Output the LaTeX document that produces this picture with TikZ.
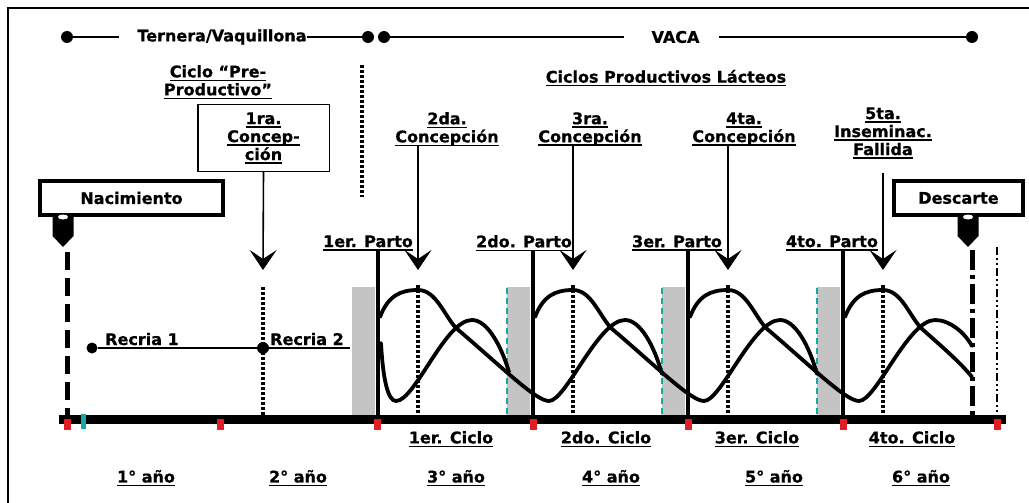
\documentclass[tikz,border=0pt]{standalone}
\usepackage{fontspec}
\setmainfont{DejaVu Sans}[BoldFeatures={FakeBold=0.8}]
\usetikzlibrary{arrows.meta}
\definecolor{graybox}{RGB}{196,196,196}
\definecolor{tealc}{RGB}{20,170,160}
\definecolor{redm}{RGB}{225,30,40}
\newcommand{\ulx}[1]{\setbox0\hbox{#1}\rlap{\rule[-3.5pt]{\wd0}{1.3pt}}\box0}
\newcommand{\mymarker}[1]{%
  \fill (#1-10.5,217) -- (#1+10.5,217) -- (#1+10.5,236) -- (#1,247) -- (#1-10.5,236) -- cycle;
  \fill[white] (#1,217) ellipse (5pt and 2.5pt);}
\begin{document}
\begin{tikzpicture}[x=1pt,y=-1pt,
  lbl/.style={font=\bfseries\fontsize{16}{18}\selectfont, inner sep=0pt, align=center},
  dot/.style={circle, fill=black, inner sep=0pt, minimum size=12pt},
  thinline/.style={line width=2pt},
  dotv/.style={line width=4pt, dash pattern=on 3pt off 2pt},
  conc/.style={line width=1.6pt, -{Stealth[length=20pt,width=27pt,inset=9pt]}},
  partoline/.style={line width=3.5pt},
  wave/.style={line width=3.8pt, line cap=round},
  boxthick/.style={draw, line width=4pt, inner sep=0pt},
]
\useasboundingbox (0,0) rectangle (1029,503);
\fill[white] (0,0) rectangle (1029,503);
% frame
\draw[line width=2.5pt] (8,503) -- (8,8) -- (1029,8);

% top row
\node[dot] (d1) at (67,37) {};
\node[lbl] (tv) at (222,37) {Ternera/Vaquillona};
\node[dot] (d2) at (368,37) {};
\node[dot] (d3) at (384,37) {};
\node[lbl] (vaca) at (675.5,37) {VACA};
\node[dot] (d4) at (972,37) {};
\draw[thinline] (d1) -- ([xshift=-18pt]tv.west);
\draw[thinline] (tv.east) -- (d2);
\draw[thinline] (d3) -- ([xshift=-27pt]vaca.west);
\draw[thinline] ([xshift=19pt]vaca.east) -- (d4);

% headings
\node[lbl] (cpp) at (218,82) {\ulx{Ciclo “Pre-}\\\ulx{Productivo”}};
\node[lbl] (cpl) at (666,78) {\ulx{Ciclos Productivos Lácteos}};
\draw[dotv] (362,65) -- (362,197);

% gray boxes and cyan edges
\foreach \P in {378,533,688,843} {
  \fill[graybox] (\P-26,287) rectangle (\P-3,416);
}
\foreach \P in {533,688,843} {
  \draw[tealc, line width=1.8pt, dash pattern=on 6pt off 4pt] (\P-26,288) -- (\P-26,416);
}

% Nacimiento / Descarte
\node[lbl, boxthick, minimum width=183pt, minimum height=34pt] (nac) at (131.5,198) {Nacimiento};
\node[lbl, boxthick, minimum width=129pt, minimum height=34pt] (desc) at (958.5,198) {Descarte};
\mymarker{63}
\mymarker{968}
\draw[line width=5pt, dash pattern=on 18pt off 8pt] (67,252) -- (67,415);
\draw[line width=5pt, dash pattern=on 20pt off 5pt on 4pt off 5pt] (972,250) -- (972,415);
\draw[line width=2pt, dash pattern=on 8pt off 3pt on 2pt off 3pt on 2pt off 3pt] (997,247) -- (997,415);

% 1ra concepcion
\node[lbl, draw, line width=1.5pt, minimum width=131.5pt, minimum height=66.5pt] (c1) at (263.5,138) {\ulx{1ra.}\\\ulx{Concep-}\\\ulx{ción}};
\coordinate (t1) at (263,270);
\draw[conc] (c1.south) -- (t1);
\draw[dotv] (263,287) -- (263,416);

% Recria
\node[dot, minimum size=11pt] (r1) at (92,348) {};
\node[dot] (r2) at (263,348) {};
\coordinate (rend) at (350,348);
\draw[line width=1.6pt] (r1) -- (r2) -- (rend);
\node[lbl, anchor=base] (rl1) at (142,345) {Recria 1};
\node[lbl, anchor=base] (rl2) at (307,345) {Recria 2};

% cycles: dotted lines and parto lines
\foreach \P in {378,533,688,843} {
  \draw[dotv] (\P+40,285) -- (\P+40,416);
  \draw[partoline] (\P,250) -- (\P,416);
}
\node[lbl] (p1) at (368,243) {\ulx{1er. Parto}};
\node[lbl] (p2) at (524,243) {\ulx{2do. Parto}};
\node[lbl] (p3) at (677,243) {\ulx{3er. Parto}};
\node[lbl] (p4) at (832,243) {\ulx{4to. Parto}};

% concepcion labels and arrows
\node[lbl] (c2) at (447,129) {\ulx{2da.}\\\ulx{Concepción}};
\node[lbl] (c3) at (590,129) {\ulx{3ra.}\\\ulx{Concepción}};
\node[lbl] (c4) at (744,129) {\ulx{4ta.}\\\ulx{Concepción}};
\node[lbl] (c5) at (883,133) {\ulx{5ta.}\\\ulx{Inseminac.}\\\ulx{Fallida}};
\coordinate (t2) at (418,270);
\coordinate (t3) at (573,270);
\coordinate (t4) at (728,270);
\coordinate (t5) at (883,270);
\draw[conc] (c2.south -| t2) -- (t2);
\draw[conc] (c3.south -| t3) -- (t3);
\draw[conc] (c4.south -| t4) -- (t4);
\draw[conc] ([yshift=-14pt]c5.south -| t5) -- (t5);

% waves
% tail of first wave (before 1st parto)
\draw[wave] (381,343) .. controls (383,380) and (388,401) .. (396,401)
  .. controls (415,401) and (445,320) .. (472,320)
  .. controls (487,320) and (501,345) .. (509,372);
% full waves
\foreach \P in {378,533} {
  \draw[wave] (\P+2,317) .. controls (\P+10,296) and (\P+22,290) .. (\P+40,290)
    .. controls (\P+58,290) and (\P+66,315) .. (\P+78,328)
    .. controls (\P+125,368) and (\P+158,401) .. (\P+171,401)
    .. controls (\P+188,401) and (\P+220,320) .. (\P+247,320)
    .. controls (\P+262,320) and (\P+276,345) .. (\P+284,374);
}
% wave cut at Descarte
\draw[wave] (690,317) .. controls (698,296) and (710,290) .. (728,290)
  .. controls (746,290) and (754,315) .. (766,328)
  .. controls (813,368) and (846,401) .. (859,401)
  .. controls (876,401) and (908,320) .. (935,320)
  .. controls (950,320) and (965,333) .. (972,346);
% last wave
\draw[wave] (845,317) .. controls (853,296) and (865,290) .. (883,290)
  .. controls (901,290) and (909,315) .. (921,328)
  .. controls (940,345) and (960,362) .. (972,377);

% time bar
\draw[line width=9pt] (59,419) -- (1006,419);
\foreach \x in {67,220,377,533,688,843,997} {
  \fill[redm] (\x-3.5,419) rectangle (\x+3.5,430);
}
\fill[tealc] (80.5,414) rectangle (85.5,429);

% cycle labels
\node[lbl] (k1) at (451,439) {\ulx{1er. Ciclo}};
\node[lbl] (k2) at (606,439) {\ulx{2do. Ciclo}};
\node[lbl] (k3) at (757,439) {\ulx{3er. Ciclo}};
\node[lbl] (k4) at (912,439) {\ulx{4to. Ciclo}};

% year labels
\node[lbl] (y1) at (146,478) {\ulx{1° año}};
\node[lbl] (y2) at (298,478) {\ulx{2° año}};
\node[lbl] (y3) at (456,478) {\ulx{3° año}};
\node[lbl] (y4) at (611,478) {\ulx{4° año}};
\node[lbl] (y5) at (774,478) {\ulx{5° año}};
\node[lbl] (y6) at (921,478) {\ulx{6° año}};
\end{tikzpicture}
\end{document}
